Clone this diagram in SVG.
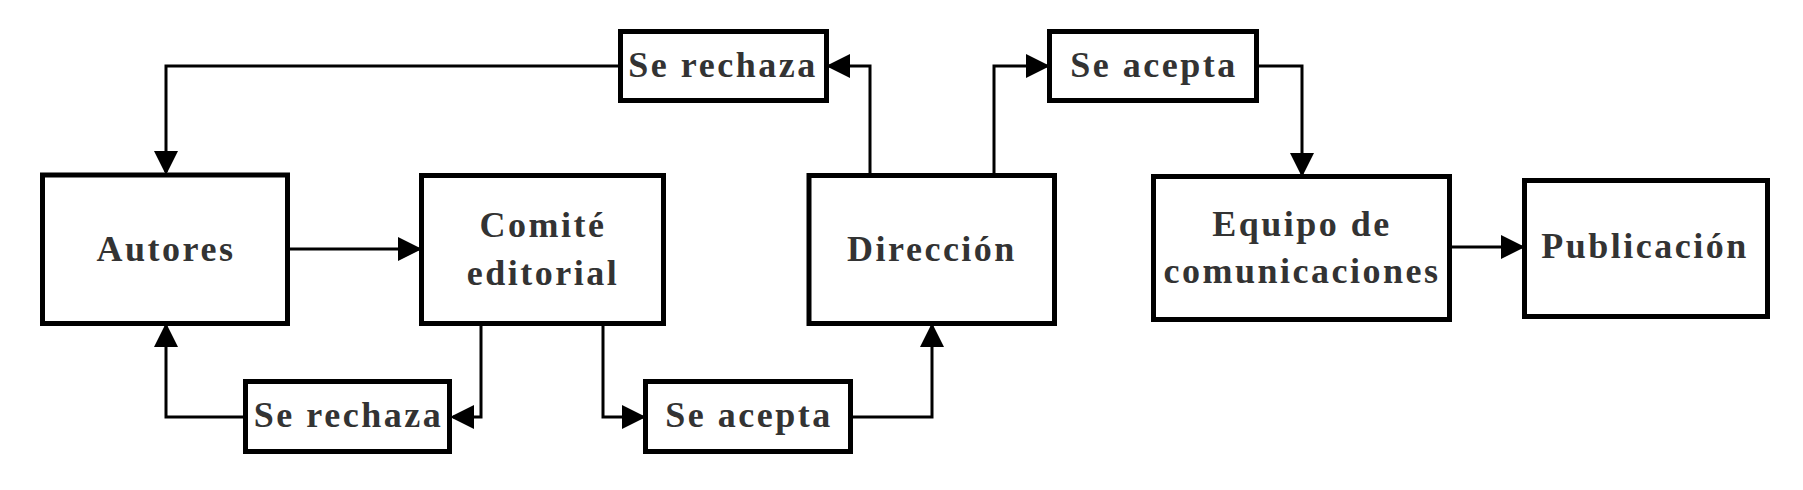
<svg xmlns="http://www.w3.org/2000/svg" width="1803" height="490" viewBox="0 0 1803 490">
  <style>
    .box { fill: #fff; stroke: #000; stroke-width: 5; }
    .lbl { font-family: "Liberation Serif", "Times New Roman", serif; font-weight: bold; font-size: 36px; letter-spacing: 2.5px; fill: #333; text-anchor: middle; }
    .edge { fill: none; stroke: #000; stroke-width: 3; stroke-linejoin: miter; marker-end: url(#arrow); }
  </style>
  <defs>
    <marker id="arrow" markerUnits="userSpaceOnUse" markerWidth="26" markerHeight="26" refX="21" refY="12" orient="auto">
      <path d="M0,0 L24,12 L0,24 Z" fill="#000"/>
    </marker>
  </defs>
  <rect width="1803" height="490" fill="#fff"/>
  <g id="connectors">
    <path class="edge" d="M290,249 H419"/>
    <path class="edge" d="M481,326 V417 H453"/>
    <path class="edge" d="M243,417 H166 V326"/>
    <path class="edge" d="M603,326 V417 H643"/>
    <path class="edge" d="M853,417 H932 V326"/>
    <path class="edge" d="M870,173 V66 H829"/>
    <path class="edge" d="M618,66 H166 V172"/>
    <path class="edge" d="M994,173 V66 H1047"/>
    <path class="edge" d="M1259,66 H1302 V174"/>
    <path class="edge" d="M1452,247 H1522"/>
  </g>
  <g id="autores">
    <rect class="box" x="42.5" y="175" width="245" height="148.5"/>
    <text class="lbl" x="166" y="261">Autores</text>
  </g>
  <g id="comite">
    <rect class="box" x="421.5" y="175.5" width="242" height="148"/>
    <text class="lbl" x="543" y="237">Comité</text>
    <text class="lbl" x="543" y="284.5">editorial</text>
  </g>
  <g id="direccion">
    <rect class="box" x="809" y="175.5" width="245.5" height="148"/>
    <text class="lbl" x="932" y="261">Dirección</text>
  </g>
  <g id="rechaza-top">
    <rect class="box" x="620.5" y="31.5" width="206" height="69"/>
    <text class="lbl" x="723" y="76.5">Se rechaza</text>
  </g>
  <g id="rechaza-bottom">
    <rect class="box" x="245.5" y="381.5" width="204" height="70"/>
    <text class="lbl" x="348.5" y="427">Se rechaza</text>
  </g>
  <g id="acepta-bottom">
    <rect class="box" x="645.5" y="381.5" width="205" height="70"/>
    <text class="lbl" x="749" y="427">Se acepta</text>
  </g>
  <g id="acepta-top">
    <rect class="box" x="1049.5" y="31.5" width="207" height="69"/>
    <text class="lbl" x="1154" y="76.5">Se acepta</text>
  </g>
  <g id="equipo">
    <rect class="box" x="1153.5" y="176.5" width="296" height="143"/>
    <text class="lbl" x="1302" y="235.5">Equipo de</text>
    <text class="lbl" x="1302" y="282.5">comunicaciones</text>
  </g>
  <g id="publicacion">
    <rect class="box" x="1524.5" y="180.5" width="243" height="136"/>
    <text class="lbl" x="1645" y="258">Publicación</text>
  </g>
</svg>
